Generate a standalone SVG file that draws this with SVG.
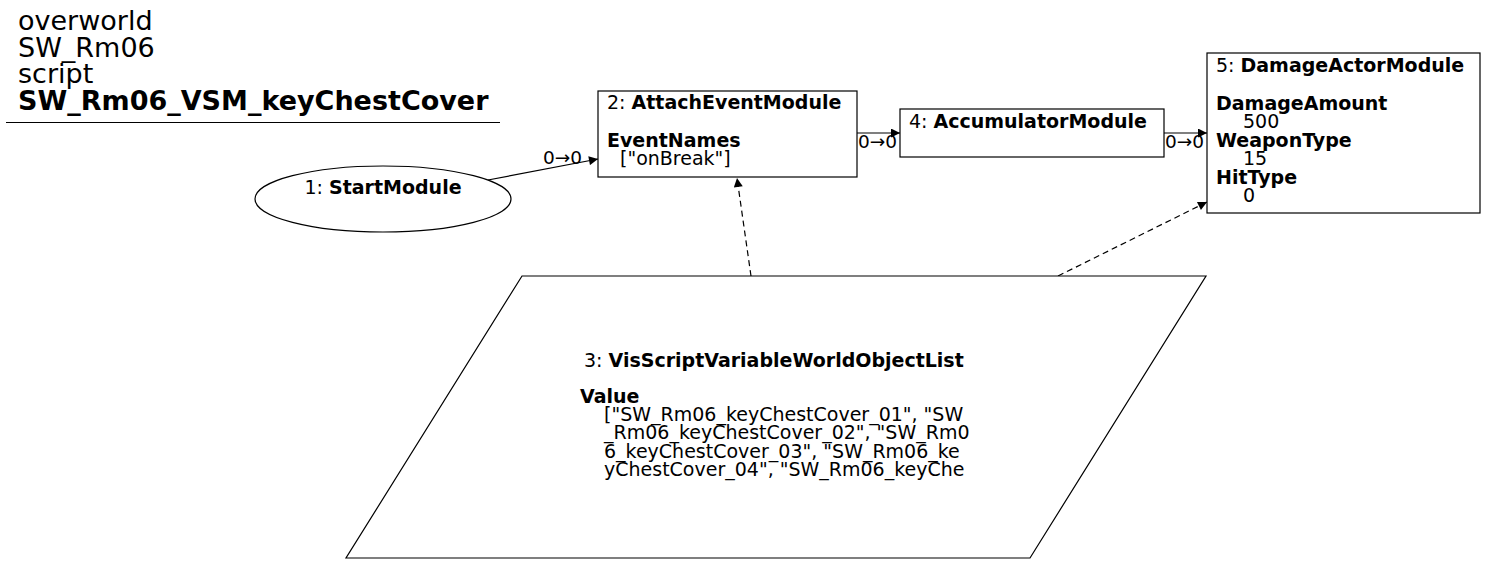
<svg xmlns="http://www.w3.org/2000/svg" width="1485" height="564" viewBox="0 0 1485 564">
<style>
text{font-family:"DejaVu Sans","Liberation Sans",sans-serif;fill:#000}
.n{font-size:19px}
.b{font-weight:bold}
.t{font-size:27px}
.e{font-size:18.5px}
.shape{fill:#fff;stroke:#000;stroke-width:1.2}
.c{fill:none;stroke:#000;stroke-width:1.2}
.d{stroke-dasharray:6,4}
</style>
<defs>
<marker id="ah" viewBox="0 0 10 10" refX="10" refY="5" markerWidth="13" markerHeight="9" markerUnits="userSpaceOnUse" orient="auto">
<path d="M0,0 L10,5 L0,10 z" fill="#000"/>
</marker>
</defs>
<rect width="1485" height="564" fill="#fff"/>
<g id="title">
<text class="t" x="18" y="30">overworld</text>
<text class="t" x="18" y="57">SW_Rm06</text>
<text class="t" x="18" y="83">script</text>
<text class="t b" x="18" y="110">SW_Rm06_VSM_keyChestCover</text>
<line x1="6" y1="122.5" x2="500" y2="122.5" stroke="#000" stroke-width="1.2"/>
</g>
<g id="connectors">
<path class="c" d="M488,180 L598,159" marker-end="url(#ah)"/>
<text class="e" x="543" y="164">0→0</text>
<path class="c" d="M857,133 L900,133" marker-end="url(#ah)"/>
<text class="e" x="858" y="148">0→0</text>
<path class="c" d="M1164,133 L1207,133" marker-end="url(#ah)"/>
<text class="e" x="1165" y="148">0→0</text>
<path class="c d" d="M751,276 L737,178" marker-end="url(#ah)"/>
<path class="c d" d="M1058,276 L1207,202" marker-end="url(#ah)"/>
</g>
<g id="node1">
<ellipse class="shape" cx="383" cy="199" rx="128" ry="33"/>
<text class="n" x="383" y="194" text-anchor="middle">1: <tspan class="b">StartModule</tspan></text>
</g>
<g id="node2">
<rect class="shape" x="598" y="91" width="259" height="86"/>
<text class="n" x="607" y="109">2: <tspan class="b">AttachEventModule</tspan></text>
<text class="n b" x="607" y="147">EventNames</text>
<text class="n" x="620" y="165">["onBreak"]</text>
</g>
<g id="node4">
<rect class="shape" x="900" y="109" width="264" height="48"/>
<text class="n" x="909" y="128">4: <tspan class="b">AccumulatorModule</tspan></text>
</g>
<g id="node5">
<rect class="shape" x="1207" y="53" width="273" height="160"/>
<text class="n" x="1216" y="72">5: <tspan class="b">DamageActorModule</tspan></text>
<text class="n b" x="1216" y="110">DamageAmount</text>
<text class="n" x="1243" y="128">500</text>
<text class="n b" x="1216" y="147">WeaponType</text>
<text class="n" x="1243" y="165">15</text>
<text class="n b" x="1216" y="184">HitType</text>
<text class="n" x="1243" y="202">0</text>
</g>
<g id="node3">
<polygon class="shape" points="522,276 1206,276 1030,558 346,558"/>
<text class="n" x="584" y="367">3: <tspan class="b">VisScriptVariableWorldObjectList</tspan></text>
<text class="n b" x="580" y="403">Value</text>
<text class="n" x="604" y="421">["SW_Rm06_keyChestCover_01", "SW</text>
<text class="n" x="604" y="439">_Rm06_keyChestCover_02", "SW_Rm0</text>
<text class="n" x="604" y="458">6_keyChestCover_03", "SW_Rm06_ke</text>
<text class="n" x="604" y="476">yChestCover_04", "SW_Rm06_keyChe</text>
</g>
</svg>
